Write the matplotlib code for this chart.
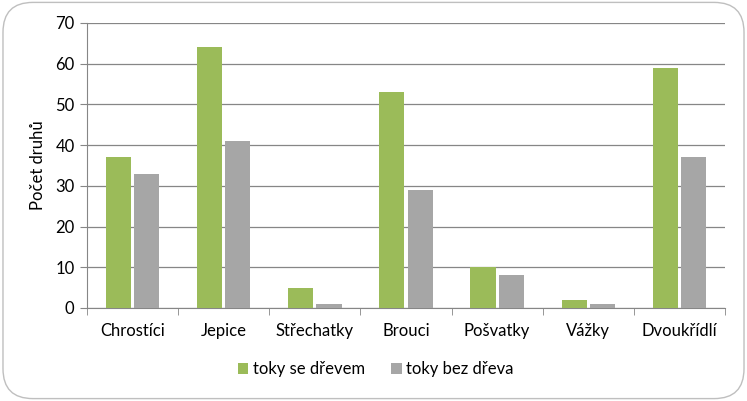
import matplotlib
matplotlib.use("Agg")
import matplotlib.pyplot as plt
import numpy as np
from matplotlib.patches import FancyBboxPatch

categories = ["Chrostíci", "Jepice", "Střechatky", "Brouci", "Pošvatky", "Vážky", "Dvoukřídlí"]
toky_se_drevem = [37, 64, 5, 53, 10, 2, 59]
toky_bez_dreva = [33, 41, 1, 29, 8, 1, 37]
series_names = ["toky se dřevem", "toky bez dřeva"]
yticks = [0, 10, 20, 30, 40, 50, 60, 70]

plt.rcParams['font.family'] = ['Lato', 'DejaVu Sans']

fig = plt.figure(figsize=(7.47, 4.01), dpi=100)
fig.patch.set_facecolor('white')
border = FancyBboxPatch((0.004, 0.006), 0.992, 0.988, boxstyle="round,pad=0,rounding_size=0.04",
                        transform=fig.transFigure, facecolor='none', edgecolor='#BFBFBF', linewidth=1.0,
                        mutation_aspect=747/401)
fig.patches.append(border)

ax = fig.add_axes([0.1165, 0.232, 0.854, 0.711])
x = np.arange(len(categories))
w = 0.275
gap = 0.035
ax.bar(x - (w + gap) / 2, toky_se_drevem, w, color='#9BBB59', label=series_names[0], zorder=3)
ax.bar(x + (w + gap) / 2, toky_bez_dreva, w, color='#A6A6A6', label=series_names[1], zorder=3)

ax.set_xlim(-0.5, len(categories) - 0.5)
ax.set_ylim(0, 70)
ax.set_yticks(yticks)
ax.yaxis.grid(True, color='#868686', linewidth=0.9, zorder=0)
ax.set_xticks(x)
ax.set_xticklabels(categories, fontsize=12)
ax.set_xticks(np.arange(-0.5, len(categories)), minor=True)
ax.tick_params(axis='x', which='major', length=0, pad=11)
ax.tick_params(axis='x', which='minor', length=5, color='#868686', direction='out')
ax.tick_params(axis='y', length=5, color='#868686', labelsize=12, pad=4)
for s in ['top', 'right']:
    ax.spines[s].set_visible(False)
ax.spines['left'].set_color('#868686')
ax.spines['bottom'].set_color('#868686')
ax.set_ylabel("Počet druhů", fontsize=12, labelpad=7)

leg = fig.legend(loc='center', bbox_to_anchor=(0.503, 0.08), ncol=2, frameon=False, fontsize=12,
                 handlelength=0.65, handleheight=0.65, handletextpad=0.25, columnspacing=1.6)

fig.savefig("out.png", dpi=100)
